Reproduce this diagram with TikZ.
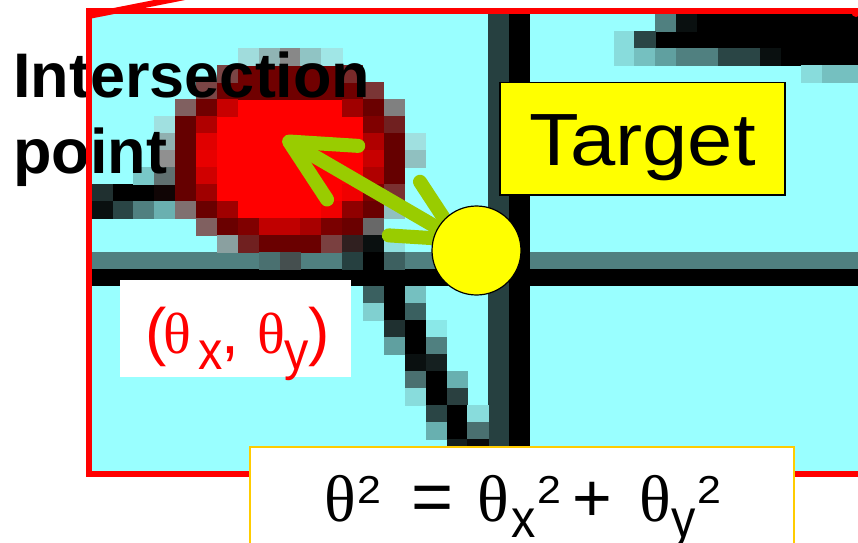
\documentclass[tikz,border=0pt]{standalone}
\usepackage{xcolor}
\usepackage{fontspec}
\usepackage{tikz}
\usetikzlibrary{arrows.meta}
\newfontfamily\sansfnt{Liberation Sans}
\newfontfamily\widefnt[FakeStretch=1.1]{Liberation Sans}
\newfontfamily\narrowfnt[FakeStretch=0.9]{Liberation Sans}
\newfontfamily\grkfnt{Liberation Serif}

\definecolor{bgcyan}{HTML}{99FFFF}
\definecolor{pxteal}{HTML}{508080}
\definecolor{pxdark}{HTML}{264040}
\definecolor{arrowgreen}{HTML}{99CC00}
\definecolor{boxgold}{HTML}{FFCC00}
\definecolor{dotyellow}{HTML}{FFFF00}

% one cell of the zoomed grid: column, row, hex colour
\newcommand{\pixel}[3]{%
  \definecolor{pxc}{HTML}{#3}%
  \fill[pxc] ({91.7+20.875*#1},{14.3+17*#2}) rectangle ++(21.2,17.3);}
\newcommand{\bx}[2]{\makebox[#1][l]{#2}}
\newcommand{\thetaG}[1]{{\grkfnt\fontsize{#1}{36}\selectfont θ}}
\newcommand{\subtx}[1]{\raisebox{-8pt}{\narrowfnt\fontsize{27}{30}\selectfont #1}}
\newcommand{\suptx}[1]{\raisebox{9.2pt}{\widefnt\fontsize{19.5}{20}\selectfont #1}}

\begin{document}
\begin{tikzpicture}[x=0.5pt,y=-0.5pt,
    frame/.style={draw=red, line width=3pt},
    dblarrow/.style={draw=arrowgreen, line width=7pt, line cap=round,
      >={Straight Barb[length=31pt,width=31pt,round]}, <->},
    dot/.style={circle, fill=dotyellow, draw=black, line width=0.6pt,
      minimum size=44.5pt, inner sep=0pt},
    tagbox/.style={draw=black, line width=0.8pt, fill=dotyellow,
      minimum width=142.5pt, minimum height=56.4pt, inner sep=0pt,
      text height=26.5pt, text depth=0pt,
      font=\widefnt\fontsize{37}{40}\selectfont},
    hitlabel/.style={align=left, inner sep=0pt,
      font=\sansfnt\bfseries\fontsize{31.5}{38}\selectfont},
    pairbox/.style={fill=white, minimum width=115.4pt, inner sep=0pt,
      text height=36.5pt, text depth=11.85pt,
      text=red, font=\sansfnt\fontsize{32}{36}\selectfont},
    eqbox/.style={draw=boxgold, line width=0.8pt, fill=white,
      minimum width=272pt, text height=37.5pt, text depth=60pt,
      inner sep=0pt, font=\sansfnt\fontsize{36}{40}\selectfont}]
  \clip (0,0) rectangle (858,542);

  % zoomed background
  \fill[bgcyan] (88.5,10.8) rectangle (880,474);

  % thick grid lines
  \fill[pxteal] (91.7,252.3) rectangle (880,269.6);
  \fill[black] (91.7,269.3) rectangle (880,286.3);
  \fill[pxdark] (488.3,10) rectangle (509.4,480);
  \fill[black] (509.2,10) rectangle (530.1,480);

  % line at the top right
  \foreach \rr/\a/\b in {0/29/36,1/27/36,2/33/36}
    \foreach \cc in {\a,...,\b} {\pixel{\cc}{\rr}{000000}}
  \foreach \cc/\rr/\hh in {27/0/508080,28/0/0A1010,25/1/88DCDC,26/1/2A4545,
      25/2/88DCDC,26/2/75C0C0,27/2/60A0A0,28/2/508080,29/2/508080,
      30/2/2A4545,31/2/2A4545,32/2/0A1010,34/3/88DCDC,35/3/75C0C0,36/3/75C0C0}
    {\pixel{\cc}{\rr}{\hh}}

  % short line at the left
  \foreach \cc/\rr/\hh in {0/10/203030,1/10/000000,2/10/000000,3/10/100505,
      0/11/0A1010,1/11/2A4545,2/11/508080,3/11/6AB0B0}
    {\pixel{\cc}{\rr}{\hh}}

  % red spot
  \foreach \rr/\a/\b in {5/7/11,6/6/12,7/6/12,8/6/12,9/6/12,10/6/11,11/7/10}
    \foreach \cc in {\a,...,\b} {\pixel{\cc}{\rr}{FF0000}}
  \foreach \rr/\a/\b in {3/7/11,4/6/12}
    \foreach \cc in {\a,...,\b} {\pixel{\cc}{\rr}{700000}}
  \foreach \cc/\rr/\hh in {7/2/A0DCDC,8/2/90B4B4,9/2/888888,10/2/90C4C4,11/2/A0E6E6,
      6/3/7A4545,12/3/7A2A2A,5/4/7A4545,13/4/7A3535,
      4/5/806060,5/5/700000,6/5/C80000,12/5/A00000,13/5/6A0000,14/5/808080,
      3/6/A0E0E0,4/6/650000,5/6/B00000,13/6/800000,14/6/702020,
      3/7/90B0B0,4/7/650000,5/7/E00000,13/7/B00000,14/7/650000,15/7/A0E0E0,
      3/8/909090,4/8/650000,5/8/E80000,13/8/C80000,14/8/650000,15/8/90C0C0,
      2/9/78C8C8,3/9/607070,4/9/650000,5/9/D00000,13/9/B00000,14/9/650000,
      4/10/650000,5/10/A00000,12/10/F00000,13/10/800000,14/10/7A3030,
      4/11/807070,5/11/6A0000,6/11/A00000,11/11/F00000,12/11/900000,
      13/11/6A0000,14/11/90C0C0,
      5/12/806060,6/12/6A0000,7/12/800000,8/12/C00000,9/12/C00000,
      10/12/A80000,11/12/7A0000,12/12/6A0000,13/12/686868,
      6/13/8AA0A0,7/13/702020,8/13/6A0000,9/13/6A0000,10/13/6A0000,
      11/13/7A4040,12/13/302020,13/13/0A1010,14/13/90E0E0,
      8/14/4A7070,9/14/454F4F,12/14/264040,13/14/000000,14/14/3D6060}
    {\pixel{\cc}{\rr}{\hh}}

  % line going down to the right
  \foreach \cc/\rr/\hh in {13/16/3A6060,14/16/000000,15/16/75C0C0,
      13/17/80D0D0,14/17/000000,15/17/3A6060,
      14/18/1F3030,15/18/000000,16/18/8AE8E8,
      14/19/60A0A0,15/19/000000,16/19/508080,
      15/20/0A1010,16/20/152020,
      15/21/4A7070,16/21/000000,17/21/68B0B0,
      15/22/88DCDC,16/22/000000,17/22/2A4040,
      16/23/2A4545,17/23/000000,18/23/88DCDC,
      16/24/68B0B0,17/24/000000,18/24/4A7070,
      17/25/152020,18/25/0A0A0A}
    {\pixel{\cc}{\rr}{\hh}}

  % distance between the two points
  \coordinate (hit) at (283,138);
  \coordinate (spot) at (476.5,250.5);
  \draw[dblarrow, shorten >=7.2pt] (hit) -- (spot);
  \node[dot] (target) at (spot) {};

  \node[tagbox] (tgtbox) at (642.5,138.7) {Target};
  \node[hitlabel, anchor=base west] (hittext) at (13,173) {Intersection\\point};

  % red frame of the zoom
  \draw[frame] (88.5,10.8) rectangle (880,474);
  \draw[frame] (88.5,16) -- (190,-4);
  \fill[red] (856,12.5) circle (4.5);

  \node[pairbox, anchor=north] (pair) at (235.3,280)
    {\bx{9.2pt}{(}\bx{17.5pt}{\thetaG{29}}\bx{11.65pt}{\subtx{x}}\bx{17.5pt}{,}%
     \bx{14pt}{\thetaG{29}}\bx{11.85pt}{\subtx{y}}\bx{8.3pt}{)}};
  \node[eqbox, anchor=base] (formula) at (522,521.7)
    {\bx{16.7pt}{\thetaG{33}}\bx{26.65pt}{\suptx{2}}\bx{33.35pt}{=}%
     \bx{16.65pt}{\thetaG{33}}\bx{13.35pt}{\subtx{x}}\bx{17.5pt}{\suptx{2}}%
     \bx{33.3pt}{\fontsize{34}{36}\selectfont +}%
     \bx{15.85pt}{\thetaG{33}}\bx{13.35pt}{\subtx{y}}\bx{10.8pt}{\suptx{2}}};
\end{tikzpicture}
\end{document}
